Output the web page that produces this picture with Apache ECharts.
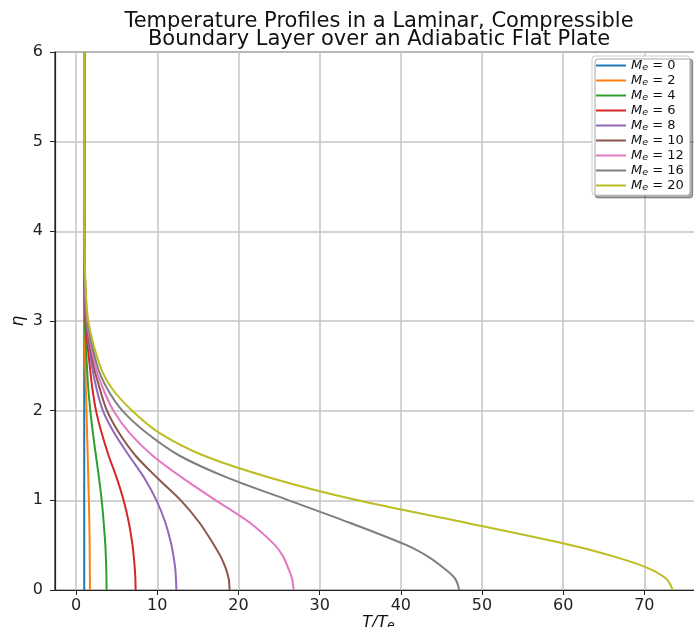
<!DOCTYPE html>
<html>
<head>
<meta charset="utf-8">
<script src="https://cdn.jsdelivr.net/npm/echarts@6/dist/echarts.min.js"></script>
<style>
  html, body { margin: 0; padding: 0; background: #fff; }
  #main { width: 694px; height: 627px; }
</style>
</head>
<body>
<div id="main"></div>
<script>
// eta values shared by every profile
var eta = [0, 0.125, 0.25, 0.375, 0.5, 0.75, 1, 1.25, 1.5, 1.75, 2, 2.25, 2.5, 3, 3.5, 4, 5, 6];

// T/Te, one list per edge Mach number
var machs = [0, 2, 4, 6, 8, 10, 12, 16, 20];
var tM0  = [1, 1, 1, 1, 1, 1, 1, 1, 1, 1, 1, 1, 1, 1, 1, 1, 1, 1];
var tM2  = [1.70, 1.70, 1.69, 1.68, 1.67, 1.63, 1.57, 1.50, 1.43, 1.35, 1.28, 1.20, 1.13, 1.03, 1.0, 1.0, 1.0, 1.0];
var tM4  = [3.75, 3.74, 3.71, 3.66, 3.60, 3.40, 3.15, 2.82, 2.44, 2.07, 1.75, 1.50, 1.33, 1.08, 1.02, 1.0, 1.0, 1.0];
var tM6  = [7.33, 7.30, 7.22, 7.10, 6.95, 6.50, 5.85, 5.00, 4.00, 3.15, 2.45, 2.00, 1.68, 1.15, 1.04, 1.0, 1.0, 1.0];
var tM8  = [12.35, 12.3, 12.2, 12.0, 11.75, 11.0, 9.9, 8.4, 6.5, 4.7, 3.3, 2.5, 1.95, 1.22, 1.05, 1.01, 1.0, 1.0];
var tM10 = [18.9, 18.8, 18.4, 17.8, 17.0, 15.2, 12.9, 10.0, 7.3, 5.3, 3.8, 2.9, 2.15, 1.30, 1.06, 1.01, 1.0, 1.0];
var tM12 = [26.8, 26.6, 26.1, 25.5, 24.5, 21.4, 17.2, 13.1, 9.4, 6.6, 4.6, 3.3, 2.35, 1.36, 1.08, 1.02, 1.0, 1.0];
var tM16 = [47.2, 46.7, 45.2, 43.3, 40.7, 33.7, 26.2, 18.7, 12.7, 8.7, 5.7, 3.8, 2.6, 1.42, 1.10, 1.02, 1.0, 1.0];
var tM20 = [73.5, 72.7, 70.3, 66.2, 61.0, 48.0, 34.7, 24.0, 15.7, 10.3, 6.9, 4.4, 2.95, 1.50, 1.12, 1.03, 1.0, 1.0];
var profiles = [tM0, tM2, tM4, tM6, tM8, tM10, tM12, tM16, tM20];

var colors = ['#1f77b4', '#ff7f0e', '#2ca02c', '#d62728', '#9467bd', '#8c564b', '#e377c2', '#7f7f7f', '#bcbd22'];

var xTicks = [0, 10, 20, 30, 40, 50, 60, 70];
var yTicks = [0, 1, 2, 3, 4, 5, 6];

var font = 'DejaVu Sans';

var series = machs.map(function (m, k) {
  return {
    name: String(m),
    type: 'line',
    data: eta.map(function (e, i) { return [profiles[k][i], e]; }),
    symbol: 'none',
    smooth: 0.3,
    lineStyle: { width: 2, color: colors[k] },
    itemStyle: { color: colors[k] },
    z: 3 + k
  };
});

var myChart = echarts.init(document.getElementById('main'));
var option = {
  animation: false,
  color: colors,
  title: {
    text: 'Temperature Profiles in a Laminar, Compressible\nBoundary Layer over an Adiabatic Flat Plate',
    left: 379,
    top: 12,
    textAlign: 'center',
    padding: 0,
    textStyle: {
      fontFamily: font,
      fontSize: 21,
      lineHeight: 18.5,
      fontWeight: 'normal',
      color: '#111'
    }
  },
  legend: {
    orient: 'vertical',
    left: 592,
    top: 56,
    padding: [2, 6, 2, 4],
    itemWidth: 30,
    itemHeight: 2,
    itemGap: 0,
    icon: 'rect',
    backgroundColor: '#fff',
    borderColor: '#cccccc',
    borderWidth: 1,
    borderRadius: 3,
    shadowColor: 'rgba(0,0,0,0.35)',
    shadowOffsetX: 3,
    shadowOffsetY: 3,
    shadowBlur: 0,
    formatter: function (n) { return '{m|M}{e|e}{t| = ' + n + '}'; },
    textStyle: {
      fontFamily: font,
      fontSize: 13,
      lineHeight: 14,
      color: '#111',
      rich: {
        m: { fontFamily: font, fontSize: 13, fontStyle: 'italic', lineHeight: 14 },
        e: { fontFamily: font, fontSize: 9.5, fontStyle: 'italic', lineHeight: 9, padding: [5, 0, 0, 0] },
        t: { fontFamily: font, fontSize: 13, lineHeight: 14 }
      }
    },
    data: machs.map(String)
  },
  grid: {
    left: 55,
    right: -8,
    top: 52,
    bottom: 37,
    outerBoundsMode: 'none',
    show: true,
    borderColor: '#222',
    borderWidth: 1.2,
    backgroundColor: 'transparent'
  },
  xAxis: {
    type: 'value',
    min: -2.6,
    max: 77.1,
    name: '{i|T/T}{s|e}',
    nameLocation: 'middle',
    nameGap: 23,
    nameMoveOverlap: false,
    nameTextStyle: {
      fontFamily: font,
      fontSize: 16,
      color: '#111',
      rich: {
        i: { fontFamily: font, fontSize: 16, fontStyle: 'italic' },
        s: { fontFamily: font, fontSize: 12, fontStyle: 'italic', padding: [7, 0, 0, 0] }
      }
    },
    axisLine: { show: true, onZero: false, lineStyle: { color: '#222', width: 1.2 } },
    axisTick: { show: true, length: 5, customValues: xTicks, lineStyle: { color: '#222' } },
    axisLabel: { customValues: xTicks, fontFamily: font, fontSize: 16, color: '#222', margin: 8 },
    splitLine: { show: true, lineStyle: { color: '#c4c4c4', width: 1.5 } }
  },
  yAxis: {
    type: 'value',
    min: 0,
    max: 6,
    interval: 1,
    name: 'η',
    nameLocation: 'middle',
    nameGap: 28,
    nameMoveOverlap: false,
    nameTextStyle: { fontFamily: font, fontSize: 17, fontStyle: 'italic', color: '#111' },
    axisLine: { show: true, onZero: false, lineStyle: { color: '#222', width: 1.2 } },
    axisTick: { show: true, length: 5, customValues: yTicks, lineStyle: { color: '#222' } },
    axisLabel: { customValues: yTicks, fontFamily: font, fontSize: 16, color: '#222', margin: 12 },
    splitLine: { show: true, lineStyle: { color: '#c4c4c4', width: 1.5 } }
  },
  series: series
};
myChart.setOption(option);
</script>
</body>
</html>
